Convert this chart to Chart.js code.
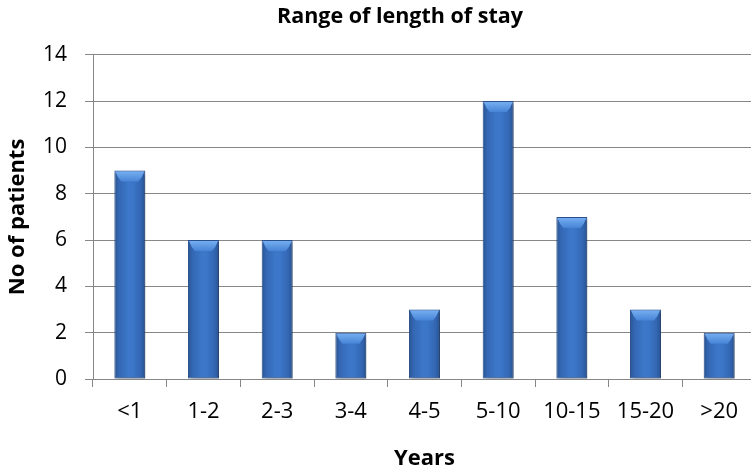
<!DOCTYPE html>
<html>
<head>
<meta charset="utf-8">
<script src="https://cdn.jsdelivr.net/npm/chart.js@4/dist/chart.umd.min.js"></script>
<style>
  html, body { margin: 0; padding: 0; background: #fff; overflow: hidden; }
  #wrap { width: 800px; height: 472px; }
</style>
</head>
<body>
<div id="wrap"><canvas id="c" width="800" height="472"></canvas></div>
<script>
// Length-of-stay ranges and patient counts
const categories = ['<1', '1-2', '2-3', '3-4', '4-5', '5-10', '10-15', '15-20', '>20'];
const patients = [9, 6, 6, 2, 3, 12, 7, 3, 2];
const yTicks = [0, 2, 4, 6, 8, 10, 12, 14];

const FONT = "'Open Sans', 'Liberation Sans', sans-serif";
const BAR_FRACTION = 0.42;

// Horizontal shading across each column for a rounded look
function barFill(ctx) {
  const chart = ctx.chart;
  const xs = chart.scales.x;
  if (!xs || !chart.chartArea) return '#3a72c4';
  const cx = xs.getPixelForValue(ctx.dataIndex);
  const w = (xs.width / categories.length) * BAR_FRACTION;
  const g = chart.ctx.createLinearGradient(cx - w / 2, 0, cx + w / 2, 0);
  g.addColorStop(0, '#26518f');
  g.addColorStop(0.14, '#3467b3');
  g.addColorStop(0.45, '#3c77c9');
  g.addColorStop(0.6, '#3b76c8');
  g.addColorStop(0.86, '#3366b2');
  g.addColorStop(1, '#26508e');
  return g;
}

// Title centred over the whole canvas rather than the padded layout area
const titleSpan = {
  id: 'titleSpan',
  afterLayout(chart) {
    if (chart.titleBlock) {
      chart.titleBlock.left = 0;
      chart.titleBlock.right = chart.width;
    }
  }
};

// Soft drop shadow behind the columns plus a light bevel on each top
const columnStyle = {
  id: 'columnStyle',
  beforeDatasetDraw(chart) {
    const c = chart.ctx;
    c.save();
    c.shadowColor = 'rgba(0,0,0,0.35)';
    c.shadowBlur = 4;
    c.shadowOffsetX = 2;
    c.shadowOffsetY = 2;
  },
  afterDatasetDraw(chart) {
    chart.ctx.restore();
    const c = chart.ctx;
    chart.getDatasetMeta(0).data.forEach(el => {
      const l = el.x - el.width / 2 + 1;
      const r = el.x + el.width / 2 - 1;
      const t = el.y + 1;
      const h = Math.min(10, (el.base - el.y) / 3);
      const g = c.createLinearGradient(0, t, 0, t + h);
      g.addColorStop(0, '#74adf0');
      g.addColorStop(1, '#4784d6');
      c.save();
      c.beginPath();
      c.moveTo(l, t);
      c.lineTo(r, t);
      c.quadraticCurveTo(r - 2, t + h * 0.6, r - 6, t + h);
      c.lineTo(l + 6, t + h);
      c.quadraticCurveTo(l + 2, t + h * 0.6, l, t);
      c.closePath();
      c.fillStyle = g;
      c.fill();
      c.restore();
    });
  }
};

new Chart(document.getElementById('c'), {
  type: 'bar',
  data: {
    labels: categories,
    datasets: [{
      data: patients,
      backgroundColor: barFill,
      borderColor: '#2a5290',
      borderWidth: 1,
      borderSkipped: false,
      categoryPercentage: 1,
      barPercentage: BAR_FRACTION
    }]
  },
  plugins: [titleSpan, columnStyle],
  options: {
    responsive: false,
    animation: false,
    layout: { padding: { left: 0, right: 44, top: 0, bottom: 0 } },
    plugins: {
      legend: { display: false },
      tooltip: { enabled: false },
      title: {
        display: true,
        text: 'Range of length of stay',
        color: '#000',
        font: { family: FONT, size: 21.5, weight: 'bold', lineHeight: 1.2 },
        padding: { top: 4, bottom: 25 }
      }
    },
    scales: {
      x: {
        grid: {
          offset: true,
          drawOnChartArea: false,
          drawTicks: true,
          tickLength: 8,
          color: '#878787'
        },
        border: { color: '#878787', width: 1 },
        ticks: {
          color: '#000',
          padding: 12,
          font: { family: FONT, size: 22 },
          maxRotation: 0,
          autoSkip: false
        },
        title: {
          display: true,
          text: 'Years',
          color: '#000',
          font: { family: FONT, size: 22, weight: 'bold', lineHeight: 1.2 },
          padding: { top: 0, bottom: 0 }
        },
        afterFit(scale) { scale.height = 93; }
      },
      y: {
        min: 0,
        max: 14,
        afterBuildTicks(scale) { scale.ticks = yTicks.map(v => ({ value: v })); },
        grid: {
          color: '#878787',
          tickLength: 8,
          drawTicks: true
        },
        border: { color: '#878787', width: 1 },
        ticks: {
          color: '#000',
          padding: 18,
          font: { family: FONT, size: 21 }
        },
        title: {
          display: true,
          text: 'No of patients',
          color: '#000',
          font: { family: FONT, size: 22, weight: 'bold', lineHeight: 1.2 },
          padding: { top: 5, bottom: 0 }
        },
        afterFit(scale) { scale.width = 93; }
      }
    }
  }
});
</script>
</body>
</html>
